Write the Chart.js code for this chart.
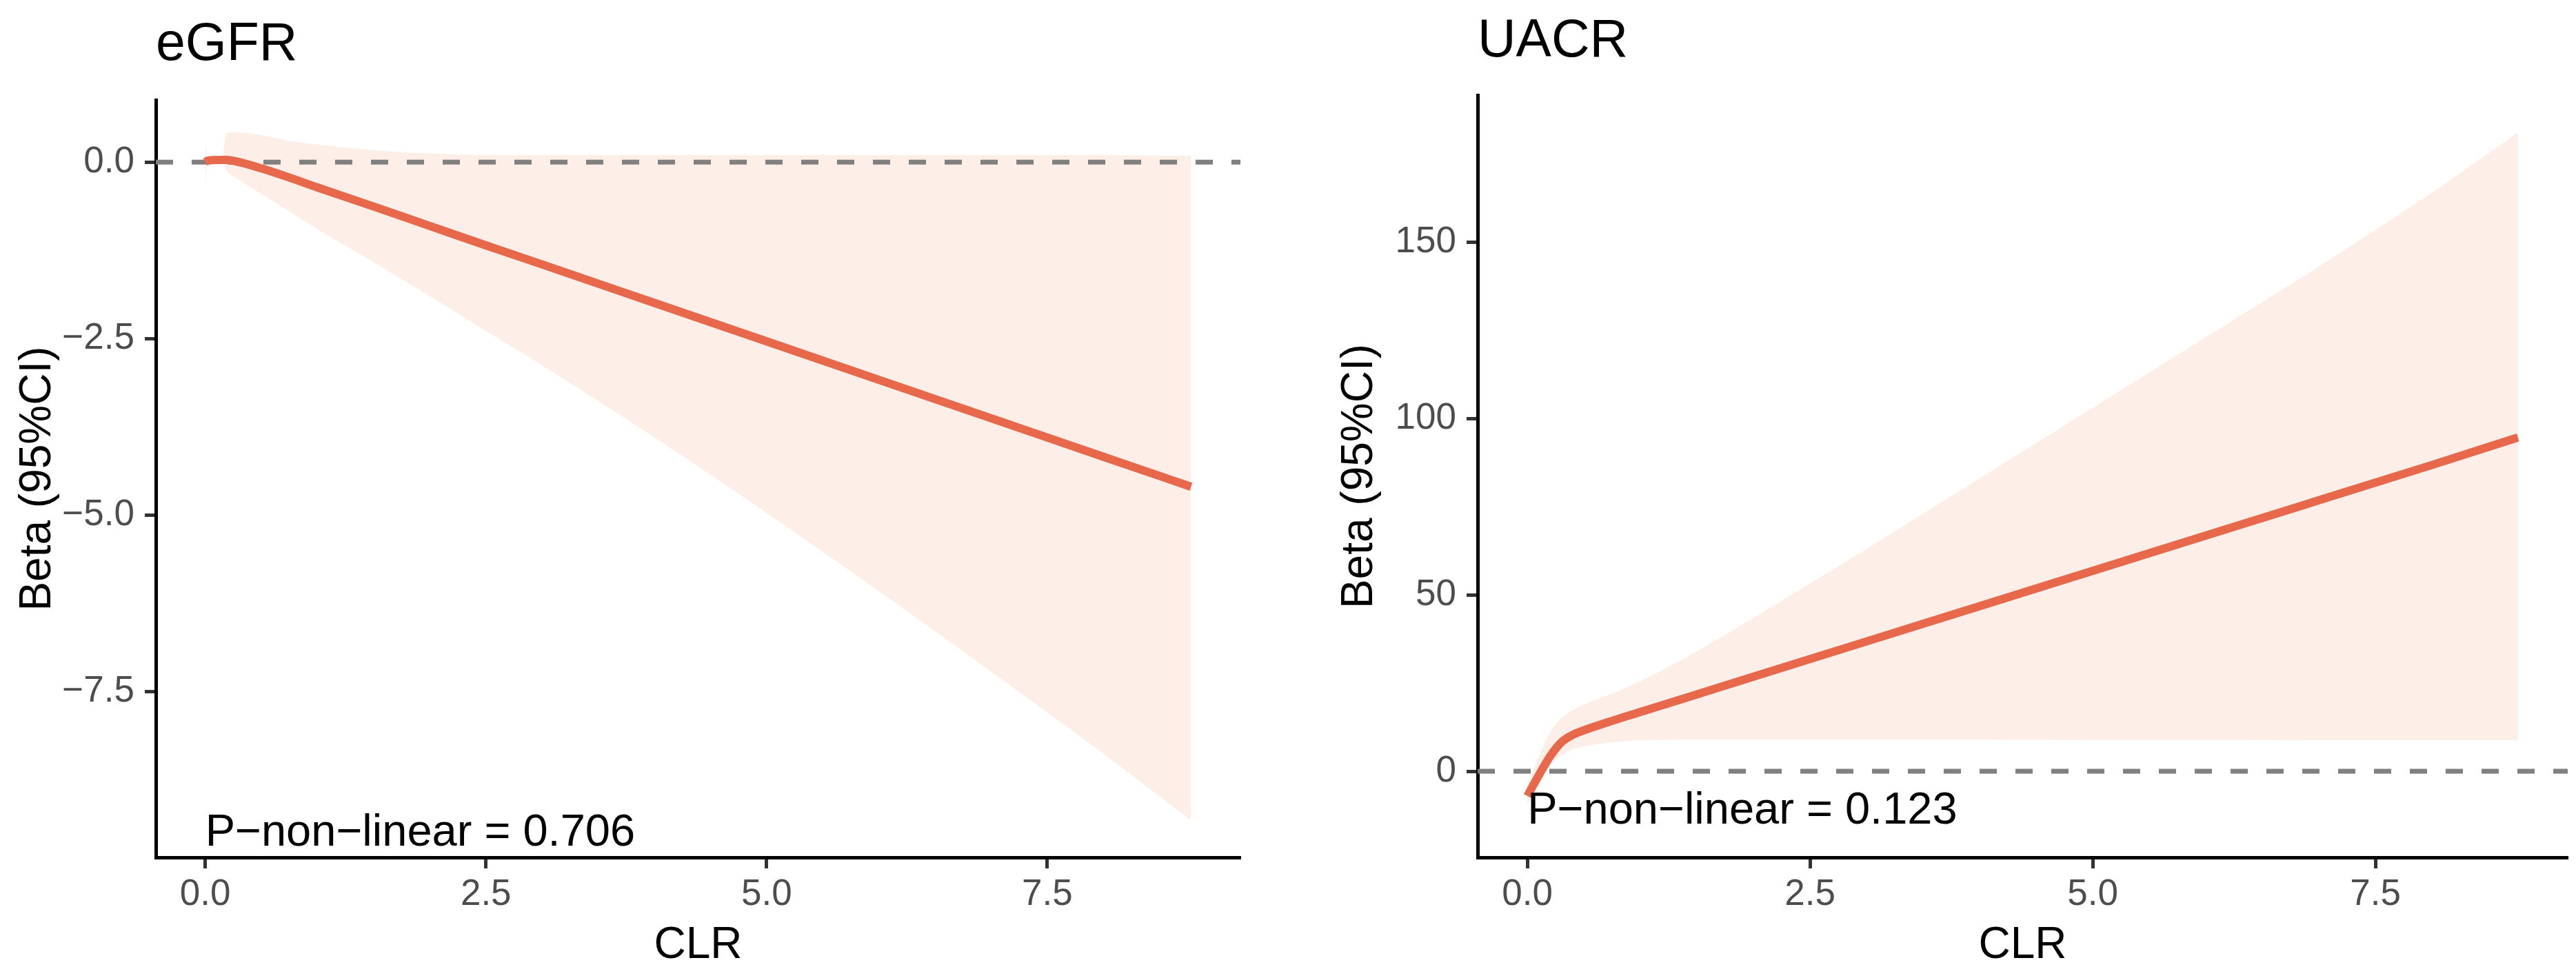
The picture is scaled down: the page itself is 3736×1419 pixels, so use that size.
<!DOCTYPE html>
<html>
<head>
<meta charset="utf-8">
<script src="https://cdn.jsdelivr.net/npm/chart.js@4.4.1/dist/chart.umd.min.js"></script>
<style>
  html, body { margin: 0; padding: 0; background: #fff; }
  canvas { position: absolute; top: 0; }
  #egfrChart { left: 0; }
  #uacrChart { left: 1868px; }
</style>
</head>
<body>
<canvas id="egfrChart" width="1868" height="1419"></canvas>
<canvas id="uacrChart" width="1868" height="1419"></canvas>
<script>
// eGFR panel values
const egfrClr   = [0, 0.02, 0.15, 0.19, 0.3, 0.5, 0.75, 1, 1.5, 2, 2.5, 3, 4, 5, 6, 7, 8, 8.78];
const egfrBeta  = [0.0, 0.02, 0.03, 0.03, 0.0, -0.09, -0.22, -0.36, -0.63, -0.905, -1.18, -1.45, -1.995, -2.54, -3.085, -3.63, -4.175, -4.6];
const egfrUpper = [0.31, 0.06, 0.06, 0.41, 0.42, 0.38, 0.3, 0.25, 0.17, 0.12, 0.1, 0.1, 0.1, 0.1, 0.1, 0.1, 0.1, 0.09];
const egfrLower = [-0.41, -0.02, 0.0, -0.12, -0.25, -0.45, -0.7, -0.95, -1.42, -1.9, -2.39, -2.88, -3.9, -4.97, -6.08, -7.22, -8.38, -9.33];

// UACR panel values
const uacrClr   = [0, 0.1, 0.2, 0.3, 0.4, 0.5, 0.75, 1, 1.5, 2, 3, 4, 5, 6, 7, 8, 8.76];
const uacrBeta  = [-7, -1.2, 4.2, 8.2, 10.3, 11.6, 14.3, 16.8, 21.8, 26.8, 36.8, 46.8, 56.8, 66.8, 76.8, 86.8, 94.6];
const uacrUpper = [-4, 4, 11, 15, 17.3, 19, 22, 25.5, 34, 43.5, 63, 83, 103, 123, 143, 164, 181];
const uacrLower = [-9.5, -3.5, 1.5, 4.5, 6.2, 7, 8.2, 8.8, 9, 9, 9, 9, 8.9, 8.9, 8.8, 8.8, 8.8];

// tick labels
const xTicks    = [0, 2.5, 5, 7.5];
const egfrTicks = [-7.5, -5, -2.5, 0];
const uacrTicks = [0, 50, 100, 150];

const FONT = '"Liberation Sans", Arial, sans-serif';
const LINE_COLOR = '#E8684C';
const BAND_COLOR = '#FDEEE8';

const pts = (xs, ys) => xs.map((x, i) => ({ x: x, y: ys[i] }));
const fmt = (v, d) => v.toFixed(d).replace('-', '\u2212');

// text label placed in data units (like ggplot annotate)
const notePlugin = {
    id: 'note',
    afterDatasetsDraw(chart, args, opts) {
        const { ctx, scales } = chart;
        ctx.save();
        ctx.font = '65px ' + FONT;
        ctx.fillStyle = '#000';
        ctx.textAlign = 'left';
        ctx.textBaseline = 'alphabetic';
        ctx.fillText(opts.text, scales.x.getPixelForValue(opts.x), scales.y.getPixelForValue(opts.y));
        ctx.restore();
    }
};

function makePanel(id, p) {
    new Chart(document.getElementById(id), {
        type: 'line',
        data: {
            datasets: [
                {
                    data: pts(p.clr, p.beta),
                    borderColor: LINE_COLOR,
                    borderWidth: 12,
                    pointRadius: 0,
                    cubicInterpolationMode: 'monotone',
                    fill: false
                },
                {
                    data: [{ x: p.xMin, y: 0 }, { x: p.xMax, y: 0 }],
                    borderColor: '#808080',
                    borderWidth: 7,
                    borderDash: [25, 27],
                    pointRadius: 0,
                    fill: false
                },
                {
                    data: pts(p.clr, p.upper),
                    borderWidth: 0,
                    pointRadius: 0,
                    cubicInterpolationMode: 'monotone',
                    backgroundColor: BAND_COLOR,
                    fill: '+1'
                },
                {
                    data: pts(p.clr, p.lower),
                    borderWidth: 0,
                    pointRadius: 0,
                    cubicInterpolationMode: 'monotone',
                    fill: false
                }
            ]
        },
        options: {
            responsive: false,
            animation: false,
            devicePixelRatio: 1,
            layout: { padding: { left: 0, right: p.padRight, top: 0, bottom: 0 } },
            plugins: {
                legend: { display: false },
                tooltip: { enabled: false },
                title: {
                    display: true,
                    text: p.title,
                    align: 'start',
                    fullSize: false,
                    color: '#000',
                    font: { family: FONT, size: 77, weight: 'normal' },
                    padding: p.titlePad
                },
                note: { text: p.note, x: p.noteAt[0], y: p.noteAt[1] }
            },
            scales: {
                x: {
                    type: 'linear',
                    min: p.xMin,
                    max: p.xMax,
                    afterFit: s => { s.height = 175; },
                    afterBuildTicks: s => { s.ticks = xTicks.map(v => ({ value: v })); },
                    grid: {
                        display: true, drawOnChartArea: false, drawTicks: true,
                        tickLength: 16, tickWidth: 5, tickColor: '#333333'
                    },
                    border: { display: true, color: '#000', width: 5 },
                    ticks: {
                        padding: 7,
                        color: '#4D4D4D',
                        font: { family: FONT, size: 53 },
                        maxRotation: 0,
                        callback: v => fmt(v, 1)
                    },
                    title: {
                        display: true,
                        text: 'CLR',
                        color: '#000',
                        font: { family: FONT, size: 64 },
                        padding: { top: 0, bottom: 8.6 }
                    }
                },
                y: {
                    type: 'linear',
                    min: p.yMin,
                    max: p.yMax,
                    afterFit: s => { s.width = p.yWidth; },
                    afterBuildTicks: s => { s.ticks = p.yTicks.map(v => ({ value: v })); },
                    grid: {
                        display: true, drawOnChartArea: false, drawTicks: true,
                        tickLength: 16, tickWidth: 5, tickColor: '#333333'
                    },
                    border: { display: true, color: '#000', width: 5 },
                    ticks: {
                        padding: 15,
                        color: '#4D4D4D',
                        font: { family: FONT, size: 53 },
                        callback: v => fmt(v, p.yDecimals)
                    },
                    title: {
                        display: true,
                        text: 'Beta (95%CI)',
                        color: '#000',
                        font: { family: FONT, size: 64 },
                        padding: { top: p.yTitlePad, bottom: 0 }
                    }
                }
            }
        },
        plugins: [notePlugin]
    });
}

makePanel('egfrChart', {
    clr: egfrClr, beta: egfrBeta, upper: egfrUpper, lower: egfrLower,
    title: 'eGFR', titlePad: { top: 20, bottom: 32.6 },
    yWidth: 226, yTitlePad: 16.6, padRight: 69,
    xMin: -0.44, xMax: 9.22, yMin: -9.85, yMax: 0.88,
    yTicks: egfrTicks, yDecimals: 1,
    note: 'P\u2212non\u2212linear = 0.706', noteAt: [0, -9.68]
});

makePanel('uacrChart', {
    clr: uacrClr, beta: uacrBeta, upper: uacrUpper, lower: uacrLower,
    title: 'UACR', titlePad: { top: 15, bottom: 30.6 },
    yWidth: 275, yTitlePad: 65.6, padRight: 12,
    xMin: -0.44, xMax: 9.2, yMin: -24.4, yMax: 191.6,
    yTicks: uacrTicks, yDecimals: 0,
    note: 'P\u2212non\u2212linear = 0.123', noteAt: [0, -14.8]
});
</script>
</body>
</html>
